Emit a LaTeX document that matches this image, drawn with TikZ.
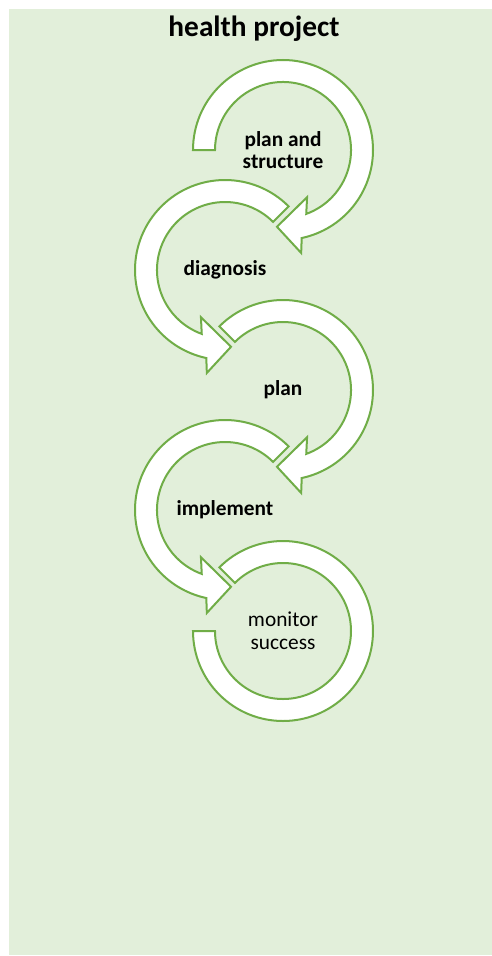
\documentclass[tikz,border=0pt]{standalone}
\usepackage{xcolor}
\definecolor{stepGreen}{HTML}{70AD47}
\definecolor{paleGreen}{HTML}{E2EFDA}
\usepackage{fontspec}
\setmainfont{Carlito}
\usepackage{tikz}
\usetikzlibrary{calc}

\begin{document}
\begin{tikzpicture}[
    x=0.75pt,
    y=0.75pt,
    stepArrow/.style={draw=stepGreen,
    fill=white,
    line width=1.5pt},
    stepText/.style={align=center,
    font=\fontsize{16}{17}\selectfont\bfseries},
    titleText/.style={font=\fontsize{22}{26}\selectfont\bfseries}
    ]
    \useasboundingbox (0,0) rectangle (492,-956);
    \fill[paleGreen] (9,-9) rectangle (492,-955);
    \node[titleText] (0) at (254,-29) {health project};
    \node[stepText] (1) at (283,-150) {plan and\\structure};
    \node[stepText] (2) at (225,-270) {diagnosis};
    \node[stepText] (3) at (283,-390) {plan};
    \node[stepText] (4) at (225,-510) {implement};
    \node[stepText, font=\fontsize{16}{17}\selectfont] (5) at (283,-631) {monitor\\success};
    \draw[stepArrow] ($(1)+(180:68)$) -- ($(1)+(180:90)$) arc[start angle=180, end angle=-78, radius=90] -- ($(1)+(-80:104.5)$) -- ($(1)+(-94.5:77)$) -- ($(1)+(-63:53)$) -- ($(1)+(-70:68)$) arc[start angle=-70, end angle=180, radius=68] -- cycle;
    \draw[stepArrow] ($(2)+(45:68)$) -- ($(2)+(45:90)$) arc[start angle=45, end angle=258, radius=90] -- ($(2)+(260:104.5)$) -- ($(2)+(274.5:77)$) -- ($(2)+(243:53)$) -- ($(2)+(250:68)$) arc[start angle=250, end angle=45, radius=68] -- cycle;
    \draw[stepArrow] ($(3)+(135:68)$) -- ($(3)+(135:90)$) arc[start angle=135, end angle=-78, radius=90] -- ($(3)+(-80:104.5)$) -- ($(3)+(-94.5:77)$) -- ($(3)+(-63:53)$) -- ($(3)+(-70:68)$) arc[start angle=-70, end angle=135, radius=68] -- cycle;
    \draw[stepArrow] ($(4)+(45:68)$) -- ($(4)+(45:90)$) arc[start angle=45, end angle=258, radius=90] -- ($(4)+(260:104.5)$) -- ($(4)+(274.5:77)$) -- ($(4)+(243:53)$) -- ($(4)+(250:68)$) arc[start angle=250, end angle=45, radius=68] -- cycle;
    \draw[stepArrow] ($(5)+(135:68)$) -- ($(5)+(135:90)$) arc[start angle=135, end angle=-180, radius=90] -- ($(5)+(-180:68)$) arc[start angle=-180, end angle=135, radius=68] -- cycle;
\end{tikzpicture}
\end{document}
